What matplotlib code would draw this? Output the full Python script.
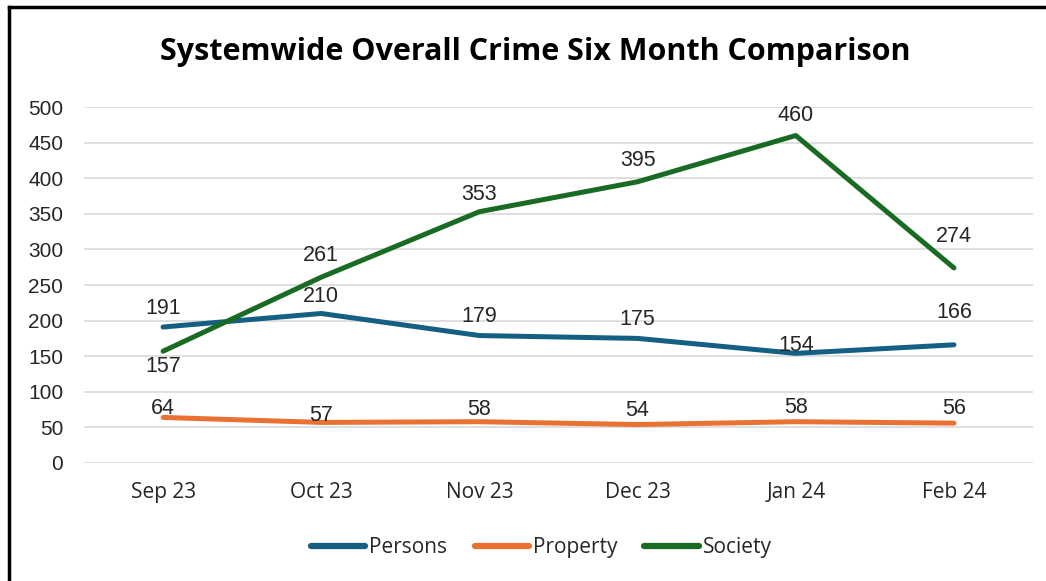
import matplotlib
matplotlib.use("Agg")
import matplotlib.pyplot as plt
from matplotlib.lines import Line2D

months = ["Sep 23", "Oct 23", "Nov 23", "Dec 23", "Jan 24", "Feb 24"]
persons = [191, 210, 179, 175, 154, 166]
property_ = [64, 57, 58, 54, 58, 56]
society = [157, 261, 353, 395, 460, 274]

head = ["Open Sans", "DejaVu Sans"]
plain = ["Liberation Sans", "DejaVu Sans"]

# label offsets in pixels (Excel auto placement)
off_persons = [19, 17, 19, 19, 8, 32]
off_property = [9, 7, 12, 14, 14, 15]
off_society = [-15, 22, 17, 21, 20, 31]

fig = plt.figure(figsize=(10.46, 5.81), dpi=100)
ax = fig.add_axes([0.0803, 0.2031, 0.9073, 0.6127])

x = list(range(len(months)))
series = [("Persons", persons, "#156082", off_persons),
          ("Property", property_, "#E97132", off_property),
          ("Society", society, "#196B24", off_society)]
for name, vals, col, offs in series:
    ax.plot(x, vals, color=col, lw=3.6, solid_capstyle="round", label=name, zorder=3)
    for xi, v, o in zip(x, vals, offs):
        ax.annotate(str(v), (xi, v), xytext=(0, o), textcoords="offset pixels",
                    ha="center", va="center", fontsize=15.5, color="#262626",
                    family=plain, zorder=4)

ax.set_xlim(-0.5, 5.5)
ax.set_ylim(0, 500)
ax.set_yticks(range(0, 501, 50))
ax.set_xticks(x)
ax.set_xticklabels(months, family=head, fontsize=15, color="#262626")
for t in ax.get_yticklabels():
    t.set_family(plain)
    t.set_fontsize(15)
    t.set_color("#262626")
ax.tick_params(length=0)
ax.tick_params(axis="x", pad=14)
ax.tick_params(axis="y", pad=15)
ax.grid(axis="y", color="#D9D9D9", lw=1.2)
ax.set_axisbelow(True)
for s in ax.spines.values():
    s.set_visible(False)

fig.text(0.512, 0.9105, "Systemwide Overall Crime Six Month Comparison", ha="center", va="center",
         fontsize=22, fontweight="bold", family=head, color="#000000")

leg = ax.legend(loc="center", bbox_to_anchor=(0.482, -0.238), ncol=3, frameon=False,
                handlelength=2.6, columnspacing=1.3, handletextpad=0.2,
                prop={"family": head, "size": 15})
for t in leg.get_texts():
    t.set_color("#262626")
for h in leg.get_lines():
    h.set_linewidth(4.5)

# screenshot border
fig.add_artist(Line2D([0.0085, 1.0], [0.9885, 0.9885], color="black", lw=2.5, transform=fig.transFigure))
fig.add_artist(Line2D([0.0085, 0.0085], [0.0, 0.9885], color="black", lw=2.5, transform=fig.transFigure))

fig.savefig("out.png", dpi=100)
